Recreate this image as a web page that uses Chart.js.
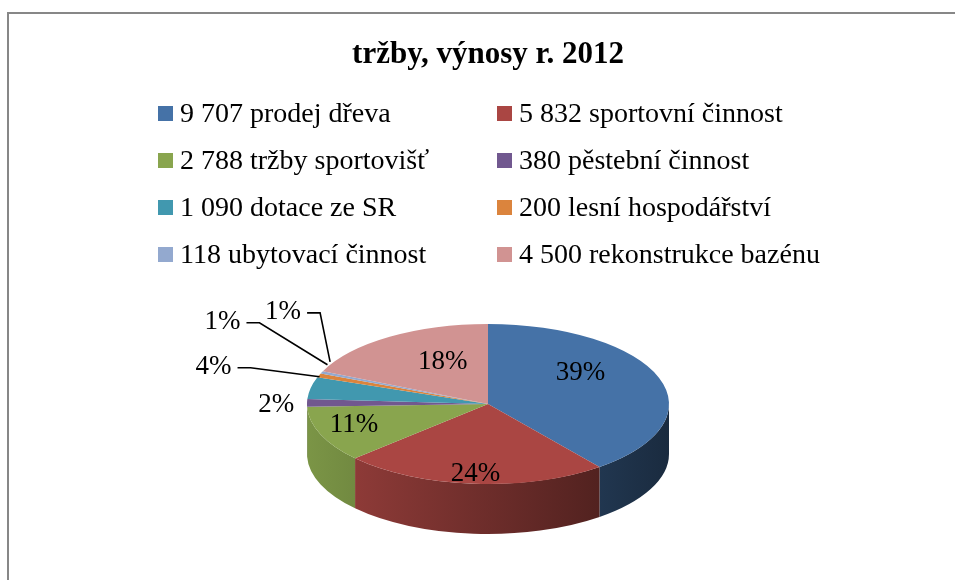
<!DOCTYPE html>
<html>
<head>
<meta charset="utf-8">
<title>tržby, výnosy r. 2012</title>
<script src="https://cdn.jsdelivr.net/npm/chart.js@4.4.1/dist/chart.umd.min.js"></script>
<style>
    body { margin: 0; background: #fff; }
    #wrap { position: relative; width: 955px; height: 580px; overflow: hidden; }
    #frame { position: absolute; left: 7px; top: 12px; width: 960px; height: 580px;
             border-top: 2px solid #878787; border-left: 2px solid #878787; }
    #box { position: absolute; left: 0; top: 0; width: 955px; height: 580px; }
    .item { position: absolute; display: flex; align-items: center; height: 30px;
            white-space: nowrap; font-family: "Liberation Serif", serif; font-size: 28px; color: #000; }
    .item .sw { width: 15px; height: 15px; margin-right: 7px; }
</style>
</head>
<body>
<div id="wrap">
    <div id="frame"></div>
    <div id="box"><canvas id="pieChart"></canvas></div>
    <div id="legend"></div>
</div>
<script>
// --- data ---
const categories = ['prodej dřeva', 'sportovní činnost', 'tržby sportovišť', 'pěstební činnost',
                    'dotace ze SR', 'lesní hospodářství', 'ubytovací činnost', 'rekonstrukce bazénu'];
const values = [9707, 5832, 2788, 380, 1090, 200, 118, 4500];
const pctLabels = ['39%', '24%', '11%', '2%', '4%', '1%', '1%', '18%'];
const colors = ['#4572A7', '#AA4643', '#89A54E', '#71588F', '#4198AF', '#DB843D', '#93A9CF', '#D19392'];

// label placement per slice (f = fraction of radius, leader = label offset from the slice edge)
const labelStyle = [
    { f: 0.54, dy: -17 }, { f: 0.86, dy: 1 }, { f: 0.8, dy: -3 }, { f: 1.17, dy: 2 },
    { leader: [-106, -10] }, { leader: [-105, -43] }, { leader: [-47, -50] }, { f: 0.46, dy: -11 }
];

function fmt(v) {
    return String(v).replace(/\B(?=(\d{3})+(?!\d))/g, ' ');
}

function shade(hex, f) {
    const n = parseInt(hex.slice(1), 16);
    const r = (n >> 16) & 255, g = (n >> 8) & 255, b = n & 255;
    return `rgb(${Math.round(r * f)},${Math.round(g * f)},${Math.round(b * f)})`;
}

// Legend - two columns like the original
const legendEl = document.getElementById('legend');
const colX = [158, 497];
const rowY = [113, 160, 207, 254];
categories.forEach((c, i) => {
    const div = document.createElement('div');
    div.className = 'item';
    div.style.left = colX[i % 2] + 'px';
    div.style.top = (rowY[Math.floor(i / 2)] - 15) + 'px';
    div.innerHTML = `<span class="sw" style="background:${colors[i]}"></span><span>${fmt(values[i])} ${c}</span>`;
    legendEl.appendChild(div);
});

// --- fake 3D: squash the pie and paint the front wall ---
const pie3d = {
    id: 'pie3d',
    beforeDatasetsDraw(chart, args, opts) {
        const arcs = chart.getDatasetMeta(0).data;
        if (!arcs.length) return;
        const ctx = chart.ctx;
        const cx = arcs[0].x, cy = arcs[0].y, rx = arcs[0].outerRadius;
        const ry = rx * opts.tilt, cyv = opts.centerY, d = opts.depth;
        const TWO = Math.PI * 2;

        arcs.forEach((arc, i) => {
            const col = colors[i];
            const grad = ctx.createLinearGradient(cx - rx, 0, cx + rx, 0);
            grad.addColorStop(0, shade(col, 0.9));
            grad.addColorStop(1, shade(col, 0.38));
            for (let n = -1; n <= 1; n++) {
                const s = Math.max(arc.startAngle, n * TWO);
                const e = Math.min(arc.endAngle, n * TWO + Math.PI);
                if (e <= s) continue;
                ctx.beginPath();
                ctx.ellipse(cx, cyv, rx, ry, 0, s, e);
                ctx.ellipse(cx, cyv + d, rx, ry, 0, e, s, true);
                ctx.closePath();
                ctx.fillStyle = grad;
                ctx.fill();
            }
        });

        ctx.save();
        ctx.translate(cx, cyv);
        ctx.scale(1, opts.tilt);
        ctx.translate(-cx, -cy);
    },
    afterDatasetsDraw(chart, args, opts) {
        const arcs = chart.getDatasetMeta(0).data;
        if (!arcs.length) return;
        const ctx = chart.ctx;
        ctx.restore();

        const cx = arcs[0].x, rx = arcs[0].outerRadius;
        const ry = rx * opts.tilt, cyv = opts.centerY;
        ctx.save();
        ctx.font = '27px "Liberation Serif"';
        ctx.fillStyle = '#000';
        ctx.strokeStyle = '#000';
        ctx.lineWidth = 1.6;
        ctx.textAlign = 'center';
        ctx.textBaseline = 'middle';
        arcs.forEach((arc, i) => {
            const mid = (arc.startAngle + arc.endAngle) / 2;
            const st = labelStyle[i];
            const txt = pctLabels[i];
            if (st.leader) {
                const ax = cx + rx * 0.95 * Math.cos(mid);
                const ay = cyv + ry * 0.95 * Math.sin(mid) - 12;
                const lx = ax + st.leader[0], ly = ay + st.leader[1];
                const w = ctx.measureText(txt).width;
                ctx.beginPath();
                ctx.moveTo(lx + w / 2 + 6, ly + 1);
                ctx.lineTo(lx + w / 2 + 19, ly + 1);
                ctx.lineTo(ax, ay);
                ctx.stroke();
                ctx.fillText(txt, lx, ly);
            } else {
                ctx.fillText(txt, cx + rx * st.f * Math.cos(mid), cyv + ry * st.f * Math.sin(mid) + st.dy);
            }
        });
        ctx.restore();
    }
};

new Chart(document.getElementById('pieChart'), {
    type: 'pie',
    data: {
        labels: categories,
        datasets: [{
            data: values,
            backgroundColor: colors,
            borderWidth: 0,
            clip: false
        }]
    },
    options: {
        responsive: true,
        maintainAspectRatio: false,
        animation: false,
        events: [],
        radius: 181,
        layout: { padding: { left: 21, right: 0, top: 0, bottom: 60 } },
        plugins: {
            legend: { display: false },
            tooltip: { enabled: false },
            title: {
                display: true,
                text: 'tržby, výnosy r. 2012',
                color: '#000',
                font: { family: 'Liberation Serif', size: 31, weight: 'bold' },
                padding: { top: 36, bottom: 10 }
            },
            pie3d: { centerY: 404, tilt: 80 / 181, depth: 50 }
        }
    },
    plugins: [pie3d]
});
</script>
</body>
</html>
